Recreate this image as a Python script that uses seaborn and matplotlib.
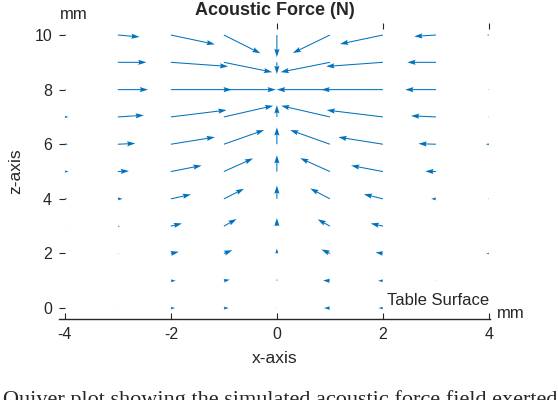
import numpy as np
import matplotlib
matplotlib.use("Agg")
import matplotlib.pyplot as plt
import seaborn as sns

# grid of sample points (mm)
x_pos = [-4, -3, -2, -1, 0, 1, 2, 3, 4]
z_pos = [10, 9, 8, 7, 6, 5, 4, 3, 2, 1, 0]

# horizontal force component per row (top row z=10 first), drawn length in mm
u_rows = [
    [0.03, 0.41, 0.83, 0.69, 0.00, -0.70, -0.81, -0.41, -0.04],
    [0.01, 0.54, 1.08, 0.91, 0.00, -0.93, -1.07, -0.54, -0.01],
    [0.03, 0.57, 1.15, 0.98, 0.00, -1.00, -1.16, -0.58, -0.02],
    [0.07, 0.49, 1.05, 0.93, 0.00, -0.92, -1.06, -0.47, -0.02],
    [0.06, 0.33, 0.83, 0.76, 0.00, -0.75, -0.84, -0.33, -0.06],
    [0.07, 0.21, 0.58, 0.55, 0.00, -0.56, -0.60, -0.20, -0.01],
    [0.05, 0.09, 0.38, 0.38, 0.00, -0.37, -0.36, -0.09, -0.02],
    [0.01, 0.04, 0.21, 0.24, 0.00, -0.23, -0.23, -0.01, -0.01],
    [0.01, 0.02, 0.15, 0.16, 0.00, -0.16, -0.14, -0.01, -0.05],
    [0.01, 0.01, 0.09, 0.11, 0.00, -0.13, -0.09, 0.00, -0.01],
    [0.01, 0.01, 0.08, 0.09, 0.00, -0.11, -0.08, 0.00, 0.01],
]

# vertical force component per row
w_rows = [
    [0.00, -0.07, -0.34, -0.67, -0.81, -0.66, -0.33, -0.05, 0.00],
    [0.00, 0.00, -0.15, -0.36, -0.43, -0.36, -0.15, 0.00, 0.00],
    [0.00, 0.00, 0.00, 0.00, 0.00, 0.00, 0.00, 0.00, 0.00],
    [0.00, 0.06, 0.25, 0.41, 0.43, 0.41, 0.25, 0.04, 0.00],
    [0.00, 0.03, 0.26, 0.52, 0.62, 0.52, 0.26, 0.02, 0.00],
    [0.00, 0.02, 0.22, 0.48, 0.60, 0.49, 0.22, 0.01, 0.00],
    [0.00, 0.00, 0.16, 0.37, 0.49, 0.38, 0.17, 0.00, 0.00],
    [0.00, 0.00, 0.10, 0.26, 0.30, 0.25, 0.10, 0.00, 0.00],
    [0.00, 0.00, 0.06, 0.12, 0.18, 0.15, 0.04, 0.00, 0.00],
    [0.00, 0.00, 0.00, 0.04, 0.07, 0.01, 0.00, 0.00, 0.00],
    [0.00, 0.00, 0.00, 0.00, 0.00, 0.00, 0.00, 0.00, 0.00],
]

x_ticks = [-4, -2, 0, 2, 4]
z_ticks = [0, 2, 4, 6, 8, 10]
top_ticks = [0, 2, 4]

ARROW = "#0072BD"
AXCOL = "#262626"

sns.set_style("white")
plt.rcParams["font.family"] = ["Liberation Sans", "DejaVu Sans"]
plt.rcParams["axes.unicode_minus"] = False

X, Z = np.meshgrid(x_pos, z_pos)
U = np.array(u_rows)
W = np.array(w_rows)

fig = plt.figure(figsize=(5.58, 4.0), dpi=100)
ax = fig.add_axes([59 / 558, 1 - 319 / 400, 431 / 558, 296 / 400])

ax.quiver(X, Z, U, W, color=ARROW, angles="xy", scale_units="xy", scale=1,
          width=0.0024, headwidth=5, headlength=8, headaxislength=7,
          minlength=0.5)

ax.set_xlim(-4.11, 4.02)
ax.set_ylim(-0.40, 10.44)
ax.set_xticks(x_ticks)
ax.set_yticks(z_ticks)
ax.tick_params(direction="in", length=4, width=0.8, colors=AXCOL,
               labelsize=11.5, pad=5)
ax.tick_params(axis="y", left=True, pad=5)
ax.tick_params(axis="x", bottom=True, pad=6)

sns.despine(ax=ax, left=True, top=True, right=True)
ax.spines["bottom"].set_color(AXCOL)
ax.spines["bottom"].set_linewidth(1.0)

sec = ax.secondary_xaxis("top")
sec.set_xticks(top_ticks)
sec.set_xticklabels([])
sec.tick_params(direction="in", length=4, width=0.8, colors=AXCOL)
for s in sec.spines.values():
    s.set_visible(False)

ax.set_title("Acoustic Force (N)", fontsize=13, fontweight="bold", pad=6)
ax.set_xlabel("x-axis", fontsize=12.5, color=AXCOL, labelpad=6)
ax.set_ylabel("z-axis", fontsize=12.5, color=AXCOL, labelpad=8)

ax.text(4.0, 0.12, "Table Surface", ha="right", va="baseline", fontsize=12)
fig.text(60 / 558, 1 - 19 / 400, "mm", ha="left", va="baseline", fontsize=12,
         color=AXCOL)
fig.text(497 / 558, 1 - 318 / 400, "mm", ha="left", va="baseline", fontsize=12,
         color=AXCOL)

fig.text(3 / 558, -5 / 400,
         "Quiver plot showing the simulated acoustic force field exerted by",
         ha="left", va="baseline", fontsize=16, family="Liberation Serif")

fig.savefig("out.png", dpi=100)
